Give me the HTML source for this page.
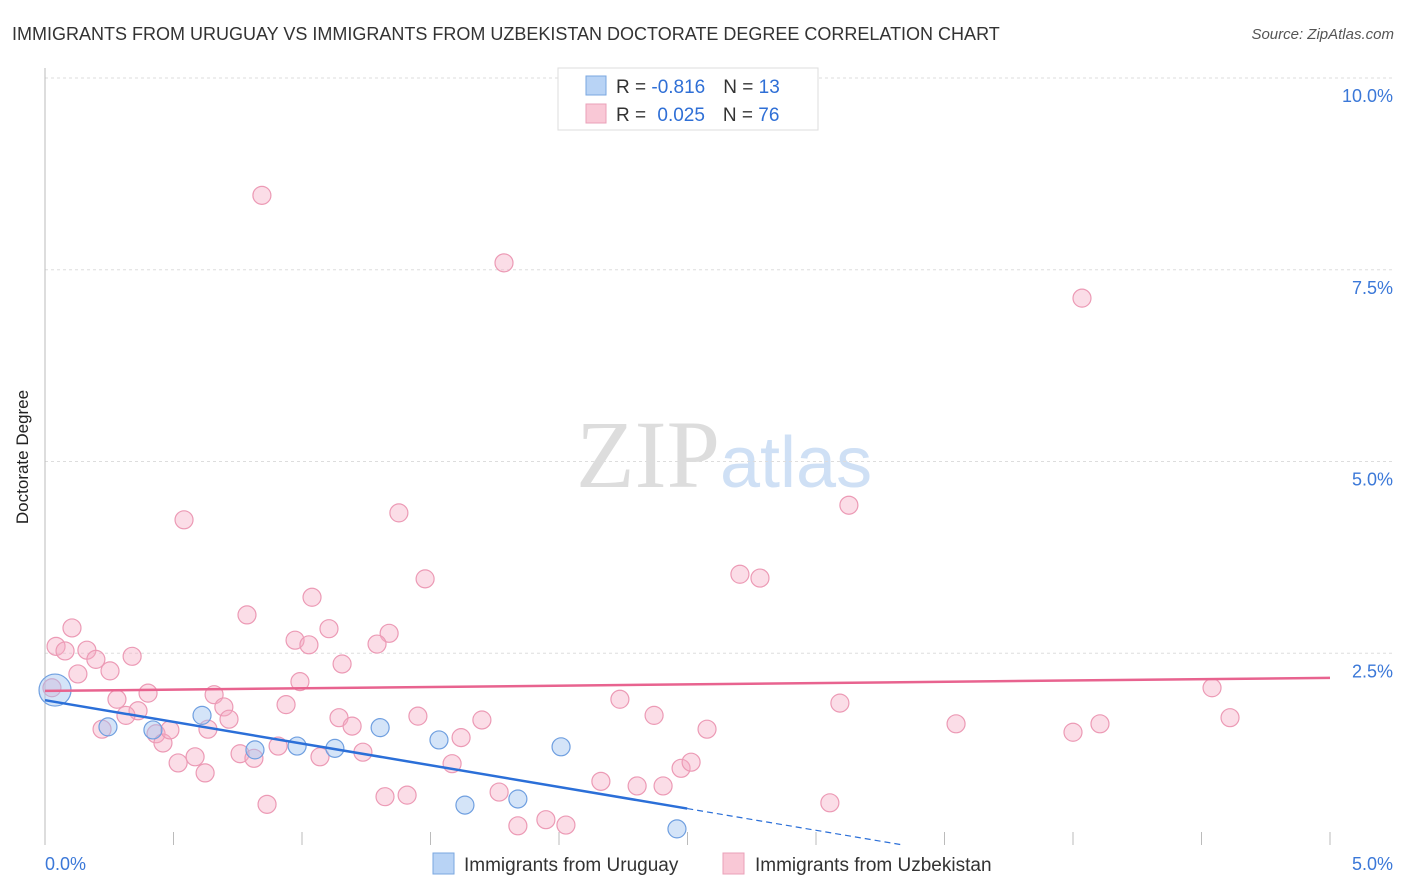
<!DOCTYPE html>
<html><head><meta charset="utf-8"><style>
body{margin:0;background:#fff;font-family:"Liberation Sans",sans-serif;}
svg{display:block}
</style></head><body>
<svg id="chart" width="1406" height="892" font-family="Liberation Sans, sans-serif">
<text x="12" y="40" font-size="18" fill="#333">IMMIGRANTS FROM URUGUAY VS IMMIGRANTS FROM UZBEKISTAN DOCTORATE DEGREE CORRELATION CHART</text>
<text x="1394" y="39" font-size="15" fill="#555" text-anchor="end" font-style="italic">Source: ZipAtlas.com</text>
<text x="28" y="457" font-size="17" fill="#222" text-anchor="middle" transform="rotate(-90 28 457)">Doctorate Degree</text>
<text x="720" y="487" font-size="96" fill="#ddd" text-anchor="end" font-family="Liberation Serif, serif">ZIP</text>
<text x="720" y="487" font-size="72" fill="#cfe0f5">atlas</text>
<g id="grid"></g><g id="axes"></g><g id="pts"></g><g id="lines"></g>
<g>
<rect x="558" y="68" width="260" height="62" fill="#fff" stroke="#ddd"/>
<rect x="586" y="76" width="20" height="19" fill="#b8d3f5" stroke="#7aa7e0"/>
<rect x="586" y="104" width="20" height="19" fill="#f9c8d6" stroke="#eaa0b8"/>
<text x="616" y="93" font-size="19" fill="#333">R = <tspan fill="#2f6fd6">-0.816</tspan><tspan dx="18">N = </tspan><tspan fill="#2f6fd6">13</tspan></text>
<text x="616" y="121" font-size="19" fill="#333">R = <tspan fill="#2f6fd6" dx="6">0.025</tspan><tspan dx="18">N = </tspan><tspan fill="#2f6fd6">76</tspan></text>
</g>
<g>
<rect x="433" y="853" width="21" height="21" fill="#b8d3f5" stroke="#7aa7e0"/>
<text x="464" y="871" font-size="19" fill="#333">Immigrants from Uruguay</text>
<rect x="723" y="853" width="21" height="21" fill="#f9c8d6" stroke="#eaa0b8"/>
<text x="755" y="871" font-size="19" fill="#333">Immigrants from Uzbekistan</text>
</g>
</svg>
<script>
const yTicks=[2.5,5,7.5,10];
const yTickLabels=["2.5%","5.0%","7.5%","10.0%"];
const xTickLabels=["0.0%","5.0%"];
const pinkX=[0.844,1.786,4.035,0.541,1.377,3.128,1.479,2.704,2.782,0.786,1.039,0.105,0.043,0.078,0.163,0.198,0.339,0.253,0.128,0.973,1.027,1.105,1.339,1.292,1.156,0.992,0.401,0.280,0.658,0.696,0.938,0.716,1.144,1.195,1.451,1.700,0.362,0.315,0.222,0.432,0.459,0.486,0.634,0.584,0.518,0.623,0.759,0.813,0.907,1.070,1.237,1.619,1.584,2.237,2.370,2.576,3.093,3.545,4.000,4.105,4.541,4.611,0.864,1.323,1.409,1.767,1.840,1.949,2.027,2.163,2.304,2.405,2.475,2.514,3.054,0.027];
const pinkY=[8.47,7.59,7.13,4.24,4.33,4.43,3.47,3.53,3.48,3.00,3.23,2.83,2.59,2.53,2.54,2.42,2.46,2.27,2.23,2.67,2.61,2.82,2.76,2.62,2.36,2.13,1.98,1.90,1.96,1.80,1.83,1.64,1.66,1.55,1.68,1.63,1.75,1.69,1.51,1.45,1.33,1.50,1.51,1.15,1.07,0.94,1.19,1.13,1.29,1.15,1.21,1.40,1.06,1.90,1.69,1.51,1.85,1.58,1.47,1.58,2.05,1.66,0.53,0.63,0.65,0.69,0.25,0.33,0.26,0.83,0.77,0.77,1.00,1.08,0.55,2.05];
const blueX=[0.039,0.245,0.420,0.611,0.817,0.981,1.128,1.304,1.533,1.634,1.840,2.008,2.459];
const blueY=[2.02,1.54,1.50,1.69,1.24,1.29,1.26,1.53,1.37,0.52,0.60,1.28,0.21];
const NS="http://www.w3.org/2000/svg";
const X0=45,X1=1330,Y0=845,PX=(X1-X0)/5,PY=76.7;
const sx=v=>X0+v*PX, sy=v=>Y0-v*PY;
function mk(t,a,p){const e=document.createElementNS(NS,t);for(const k in a)e.setAttribute(k,a[k]);document.getElementById(p).appendChild(e);return e;}
yTicks.forEach((t,i)=>{
 const l=mk('line',{x1:X0,x2:1395,y1:sy(t),y2:sy(t),stroke:'#ddd','stroke-dasharray':'3,3'},'grid');
 
 
 const tx=mk('text',{x:1393,y:sy(t)+24,'font-size':18,fill:'#3b78d8','text-anchor':'end'},'grid');
 tx.textContent=yTickLabels[i];
 
 
});
const ax=mk('line',{x1:X0,x2:X0,y1:68,y2:Y0,stroke:'#bbb'},'axes');


for(let i=0;i<=10;i++){
 const t=mk('line',{x1:sx(i*0.5),x2:sx(i*0.5),y1:Y0-13,y2:Y0,stroke:'#bbb'},'axes');
 
 
}
[[0,'start',45],[5,'end',1393]].forEach((d,i)=>{
 const t=mk('text',{x:d[2],y:870,'font-size':18,fill:'#3b78d8','text-anchor':d[1]},'axes');
 t.textContent=xTickLabels[i];
 
 
});
pinkX.forEach((x,i)=>{
 const c=mk('circle',{cx:sx(x),cy:sy(pinkY[i]),r:9,fill:'rgba(246,170,195,0.4)',stroke:'#ec9ab5','stroke-width':1.2},'pts');
 
 
});
blueX.forEach((x,i)=>{
 const c=mk('circle',{cx:sx(x),cy:sy(blueY[i]),r:i===0?16:9,fill:'rgba(160,195,240,0.45)',stroke:'#6f9fe0','stroke-width':1.2},'pts');
 
 
});
function reg(xs,ys){const n=xs.length;let mx=0,my=0;xs.forEach((x,i)=>{mx+=x;my+=ys[i];});mx/=n;my/=n;let a=0,b=0;xs.forEach((x,i)=>{a+=(x-mx)*(ys[i]-my);b+=(x-mx)**2;});const s=a/b;return [s,my-s*mx];}
const [ps,pi]=reg(pinkX,pinkY);
const pl=mk('line',{x1:sx(0),y1:sy(pi),x2:sx(5),y2:sy(pi+ps*5),stroke:'#e8638f','stroke-width':2.5},'lines');


const [bs,bi]=reg(blueX,blueY);
const bx=Math.max(...blueX)+0.04;
const bl=mk('line',{x1:sx(0),y1:sy(bi),x2:sx(bx),y2:sy(bi+bs*bx),stroke:'#2b6fd8','stroke-width':2.5},'lines');


const xz=Math.min(5,-bi/bs);
const bd=mk('line',{x1:sx(bx),y1:sy(bi+bs*bx),x2:sx(xz),y2:sy(bi+bs*xz),stroke:'#2b6fd8','stroke-width':1.2,'stroke-dasharray':'6,4'},'lines');


</script>
</body></html>
